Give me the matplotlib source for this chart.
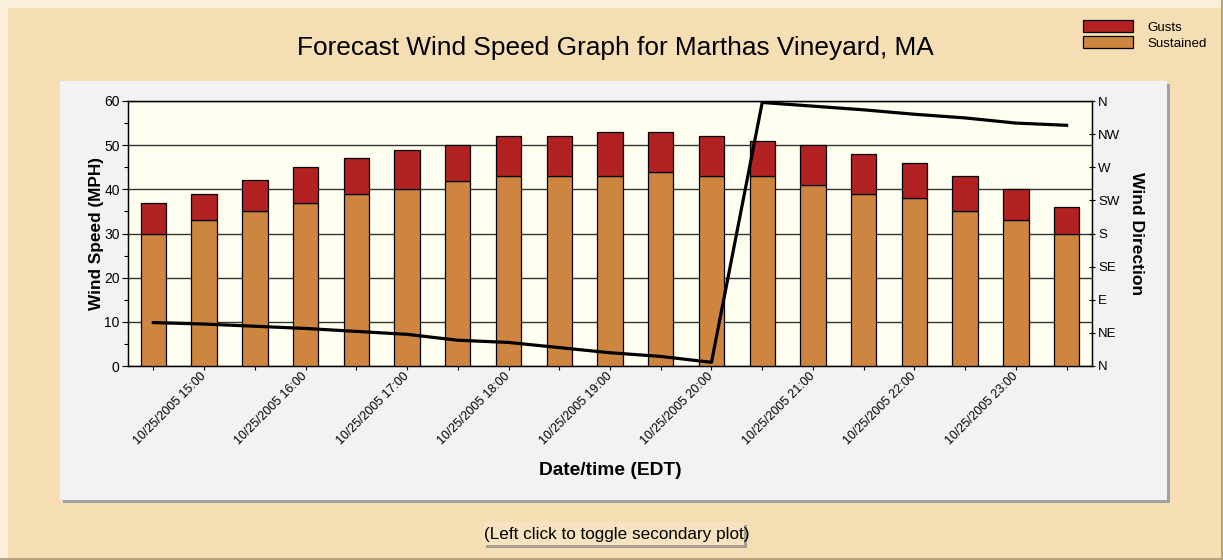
import matplotlib
matplotlib.use('Agg')
import matplotlib.pyplot as plt
from matplotlib.patches import Rectangle
from matplotlib.ticker import MultipleLocator
import numpy as np

plt.rcParams['font.family'] = ['Liberation Sans', 'DejaVu Sans']

date = "10/25/2005"
times = ["14:30", "15:00", "15:30", "16:00", "16:30", "17:00", "17:30", "18:00",
         "18:30", "19:00", "19:30", "20:00", "20:30", "21:00", "21:30", "22:00",
         "22:30", "23:00", "23:30"]
sustained = [30, 33, 35, 37, 39, 40, 42, 43, 43, 43, 44, 43, 43, 41, 39, 38, 35, 33, 30]
gusts = [37, 39, 42, 45, 47, 49, 50, 52, 52, 53, 53, 52, 51, 50, 48, 46, 43, 40, 36]
direction = [59, 57, 54, 51, 47, 43, 35, 32, 25, 18, 13, 5, 358, 353, 348, 342, 337, 330, 327]
dir_ticks = [0, 45, 90, 135, 180, 225, 270, 315, 360]
dir_labels = ["N", "NE", "E", "SE", "S", "SW", "W", "NW", "N"]

W, H = 1223, 560
fig = plt.figure(figsize=(W / 100, H / 100), dpi=100)
fig.patch.set_facecolor('#FDF0DA')

def px_rect(x0, y0, x1, y1, **kw):
    # rectangle given in pixel coords from top-left
    r = Rectangle((x0 / W, 1 - y1 / H), (x1 - x0) / W, (y1 - y0) / H,
                  transform=fig.transFigure, **kw)
    fig.patches.append(r)
    return r

# outer background
px_rect(0, 0, W, H, facecolor='#B8A27E', edgecolor='none', zorder=-10)
px_rect(0, 0, W - 2, H - 2, facecolor='#FDF0DA', edgecolor='none', zorder=-9)
px_rect(8, 8, W - 2, H - 2, facecolor='#F5DEB3', edgecolor='none', zorder=-8)
# panel with shadow
px_rect(63, 84, 1170, 503, facecolor='#A0A0A0', edgecolor='none', zorder=-7)
px_rect(60, 81, 1167, 500, facecolor='#F2F2F2', edgecolor='none', zorder=-6)
# bottom text box
px_rect(486, 525, 747, 548, facecolor='#A9A093', edgecolor='none', zorder=-5)
px_rect(483, 522, 744, 545, facecolor='#F7E3BF', edgecolor='none', zorder=-4)

ax = fig.add_axes([128 / W, 1 - 366 / H, (1092 - 128) / W, (366 - 101) / H])
ax.set_facecolor('#FFFFF0')

x = np.arange(len(times))
gust_extra = np.array(gusts) - np.array(sustained)
b1 = ax.bar(x, sustained, width=0.5, color='#CD853F', edgecolor='black', linewidth=0.9,
            zorder=3, label='Sustained')
b2 = ax.bar(x, gust_extra, bottom=sustained, width=0.5, color='#B22222', edgecolor='black',
            linewidth=0.9, zorder=3, label='Gusts')

ax.set_xlim(-0.5, len(times) - 0.5)
ax.set_ylim(0, 60)
ax.yaxis.set_major_locator(MultipleLocator(10))
ax.yaxis.set_minor_locator(MultipleLocator(5))
ax.grid(axis='y', which='major', color='#333333', linewidth=1.0, zorder=0)
ax.set_axisbelow(True)

ax.set_xticks(x)
labels = [f"{date} {t}" if t.endswith(":00") else "" for t in times]
ax.set_xticklabels(labels, rotation=45, ha='right', va='center', rotation_mode='anchor',
                   fontsize=8.9)
ax.tick_params(axis='x', length=3, width=0.8, pad=3)
ax.tick_params(axis='y', which='major', length=4, width=0.8, labelsize=10, pad=2)
ax.tick_params(axis='y', which='minor', length=3, width=0.8)
for s in ax.spines.values():
    s.set_linewidth(1.0)
    s.set_color('black')

ax.set_ylabel("Wind Speed (MPH)", fontsize=12.4, fontweight='bold', labelpad=0)
ax.set_xlabel("Date/time (EDT)", fontsize=13.8, fontweight='bold', labelpad=11)

ax2 = ax.twinx()
ax2.plot(x, direction, color='black', linewidth=2.3, zorder=5)
ax2.set_ylim(0, 360)
ax2.set_yticks(dir_ticks)
ax2.set_yticklabels(dir_labels)
ax2.tick_params(axis='y', direction='inout', length=5, width=0.8, labelsize=9.5, pad=2)
ax2.set_ylabel("Wind Direction", fontsize=12.6, fontweight='bold', rotation=-90, labelpad=17)

fig.text(615 / W, 1 - 48 / H, "Forecast Wind Speed Graph for Marthas Vineyard, MA",
         ha='center', va='center', fontsize=18.9)
fig.text(617 / W, 1 - 534 / H, "(Left click to toggle secondary plot)",
         ha='center', va='center', fontsize=12.3)

fig.legend(handles=[b2, b1], labels=['Gusts', 'Sustained'], loc='upper left',
           bbox_to_anchor=(1083 / W, 1 - 20 / H), frameon=False, fontsize=9.6,
           handlelength=3.75, handleheight=1.0, handletextpad=1.1, labelspacing=0.2,
           borderpad=0, borderaxespad=0)

fig.savefig('out.png', dpi=100, facecolor=fig.get_facecolor())
